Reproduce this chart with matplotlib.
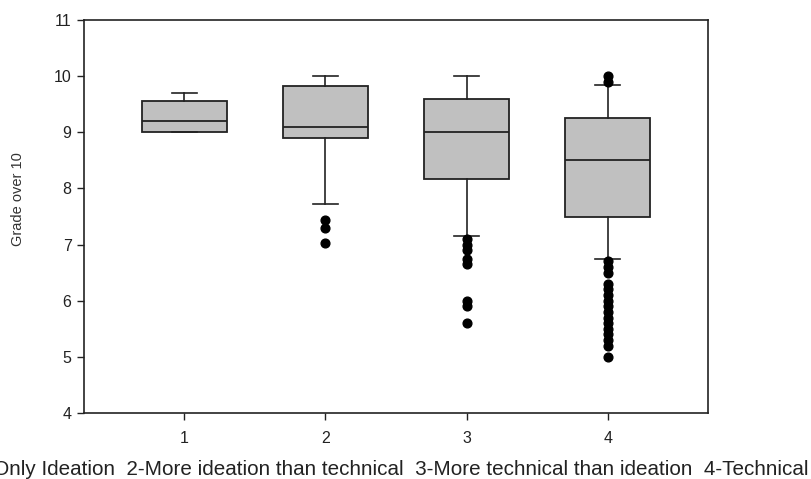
import matplotlib
matplotlib.use('Agg')
import matplotlib.pyplot as plt

plt.rcParams['font.family'] = ['Liberation Sans', 'DejaVu Sans']

# box summary per group
groups = [1, 2, 3, 4]
q1 = [9.0, 8.9, 8.17, 7.5]
medians = [9.2, 9.1, 9.0, 8.5]
q3 = [9.55, 9.83, 9.6, 9.25]
whisker_low = [9.0, 7.72, 7.15, 6.75]
whisker_high = [9.7, 10.0, 10.0, 9.85]
outliers = [
    [],
    [7.43, 7.3, 7.02],
    [7.1, 7.0, 6.9, 6.75, 6.65, 6.0, 5.9, 5.6],
    [10.0, 9.9, 6.7, 6.6, 6.5, 6.3, 6.2, 6.1, 6.0, 5.9, 5.8, 5.7,
     5.6, 5.5, 5.4, 5.3, 5.2, 5.0],
]
xlabel = ("1-Only Ideation  2-More ideation than technical  "
          "3-More technical than ideation  4-Technical")

stats = []
for i in range(len(groups)):
    stats.append({
        'q1': q1[i], 'med': medians[i], 'q3': q3[i],
        'whislo': whisker_low[i], 'whishi': whisker_high[i],
        'fliers': outliers[i],
    })

fig = plt.figure(figsize=(8.11, 4.79), dpi=100)
ax = fig.add_axes([0.1036, 0.1378, 0.7694, 0.8204])

line_col = '#222222'
ax.bxp(stats, positions=groups, widths=0.6, patch_artist=True,
       boxprops=dict(facecolor='#c0c0c0', edgecolor=line_col, linewidth=1.3),
       medianprops=dict(color=line_col, linewidth=1.3),
       whiskerprops=dict(color=line_col, linewidth=1.2),
       capprops=dict(color=line_col, linewidth=1.2),
       capwidths=0.18,
       flierprops=dict(marker='o', markerfacecolor='black',
                       markeredgecolor='black', markersize=6.3))

ax.set_xlim(0.29, 4.71)
ax.set_ylim(4, 11)
ax.set_xticks(groups)
ax.set_xticklabels([str(g) for g in groups])
ax.set_yticks(range(4, 12))

for s in ax.spines.values():
    s.set_color('#222222')
    s.set_linewidth(1.2)
ax.tick_params(axis='both', direction='out', length=5, width=1,
               labelsize=11.5, colors='#222222', labelcolor='#222222', pad=4)
ax.tick_params(axis='x', pad=8)

ax.set_ylabel('Grade over 10', fontsize=10.5, color='#333333')
ax.yaxis.set_label_coords(-0.094, 0.545)

# category legend under the axis; wider than the figure, so it is cut at the left
fig.text(392 / 811, 1 - 475 / 479, xlabel, fontsize=14.9, color='#222222',
         ha='center', va='baseline')

fig.savefig('out.png', dpi=100)
